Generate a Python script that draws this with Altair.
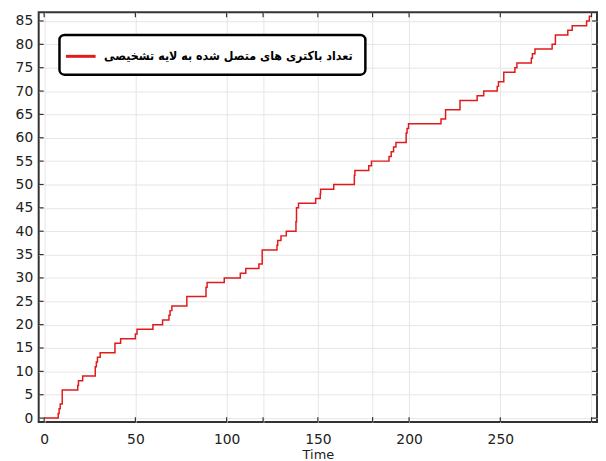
import altair as alt
import pandas as pd

# step times and cumulative counts
times = [0, 7.7, 8.2, 8.8, 9.9, 18.4, 18.8, 21.1, 28.0, 28.6, 29.2, 30.7, 38.8, 41.9,
         50.0, 50.9, 59.6, 64.9, 68.4, 69.0, 70.0, 78.2, 88.7, 89.3, 98.7, 107.5, 110.5,
         117.7, 119.5, 127.6, 128.0, 129.8, 132.7, 138.0, 138.3, 139.4, 148.8, 151.3, 151.5,
         158.7, 170.0, 170.3, 177.9, 179.4, 189.0, 190.2, 191.5, 192.8, 198.4, 198.9, 199.7,
         217.5, 220.0, 227.9, 237.3, 240.9, 248.3, 249.0, 251.9, 258.0, 259.1, 267.0, 267.6,
         269.0, 278.4, 280.2, 287.0, 289.4, 297.3, 298.8, 300.0]
counts = [0, 1, 2, 3, 6, 7, 8, 9, 11, 12, 13, 14, 16, 17,
          18, 19, 20, 21, 22, 23, 24, 26, 28, 29, 30, 31, 32,
          33, 36, 37, 38, 39, 40, 42, 45, 46, 47, 48, 49,
          50, 52, 53, 54, 55, 56, 57, 58, 59, 61, 62, 63,
          64, 66, 68, 69, 70, 71, 72, 74, 75, 76, 77, 78,
          79, 80, 82, 83, 84, 85, 86, 86]
series_label = "تعداد باکتری های متصل شده به لایه تشخیصی"
x_ticks = [0, 50, 100, 120, 150, 180, 200, 250, 300]
y_ticks = list(range(0, 90, 5))
x_title = "Time"

W, H = 564, 414
FONT = "DejaVu Sans"
LEGEND_FONT = "DejaVu Sans Condensed, DejaVu Sans"
GRID = "#e6e6e6"

df = pd.DataFrame({"t": times, "n": counts, "s": [series_label] * len(times)})
xt = pd.DataFrame({"v": x_ticks})
yt = pd.DataFrame({"v": y_ticks})

xscale = alt.Scale(domain=[-3, 303], nice=False, zero=False)
yscale = alt.Scale(domain=[-0.86, 86.86], nice=False, zero=False)
xaxis = alt.Axis(values=x_ticks, title=x_title, labelOverlap=False,
                 labelExpr="(datum.value % 50 == 0 && datum.value < 300) ? datum.label : ''")
yaxis = alt.Axis(values=y_ticks, title=None, labelOverlap=False)

line = alt.Chart(df).mark_line(interpolate="step-after", strokeWidth=1.5).encode(
    x=alt.X("t:Q", scale=xscale, axis=xaxis),
    y=alt.Y("n:Q", scale=yscale, axis=yaxis),
    color=alt.Color("s:N", scale=alt.Scale(domain=[series_label], range=["#e01b1b"]),
                    legend=alt.Legend(title=None, orient="none", legendX=21, legendY=23)),
)

tick_color = "#333"
xb = alt.Chart(xt).mark_rule(color=tick_color, strokeWidth=1.2).encode(
    x=alt.X("v:Q", scale=xscale, axis=xaxis), y=alt.value(H), y2=alt.value(H - 5))
xtop = alt.Chart(xt).mark_rule(color=tick_color, strokeWidth=1.2).encode(
    x=alt.X("v:Q", scale=xscale, axis=xaxis), y=alt.value(0), y2=alt.value(5))
yl = alt.Chart(yt).mark_rule(color=tick_color, strokeWidth=1.2).encode(
    y=alt.Y("v:Q", scale=yscale, axis=yaxis), x=alt.value(0), x2=alt.value(5))
yr = alt.Chart(yt).mark_rule(color=tick_color, strokeWidth=1.2).encode(
    y=alt.Y("v:Q", scale=yscale, axis=yaxis), x=alt.value(W), x2=alt.value(W - 5))

chart = alt.layer(line, xb, xtop, yl, yr).properties(
    width=W, height=H,
    padding={"left": 7, "top": 1, "right": 0, "bottom": 0},
).configure_view(
    stroke="#333", strokeWidth=2
).configure_axis(
    grid=True, gridColor=GRID, gridWidth=1,
    domain=False, ticks=False, tickSize=0,
    labelFont=FONT, labelFontSize=14, labelColor="#222",
    titleFont=FONT, titleFontSize=13, titleFontWeight="normal", titleColor="#222",
).configure_axisX(
    labelPadding=11, titlePadding=2
).configure_axisY(
    labelPadding=6
).configure_legend(
    strokeColor="black", strokeWidth=2.5, cornerRadius=5, fillColor="white",
    padding=12, labelFont=LEGEND_FONT, labelFontSize=12.5, labelFontWeight="bold",
    labelColor="black", labelLimit=500, labelOffset=14,
    symbolType="M-1.875,0H1.875", symbolSize=256, symbolStrokeWidth=3,
)

chart.save("out.html", embed_options={"renderer": "svg", "actions": False})
